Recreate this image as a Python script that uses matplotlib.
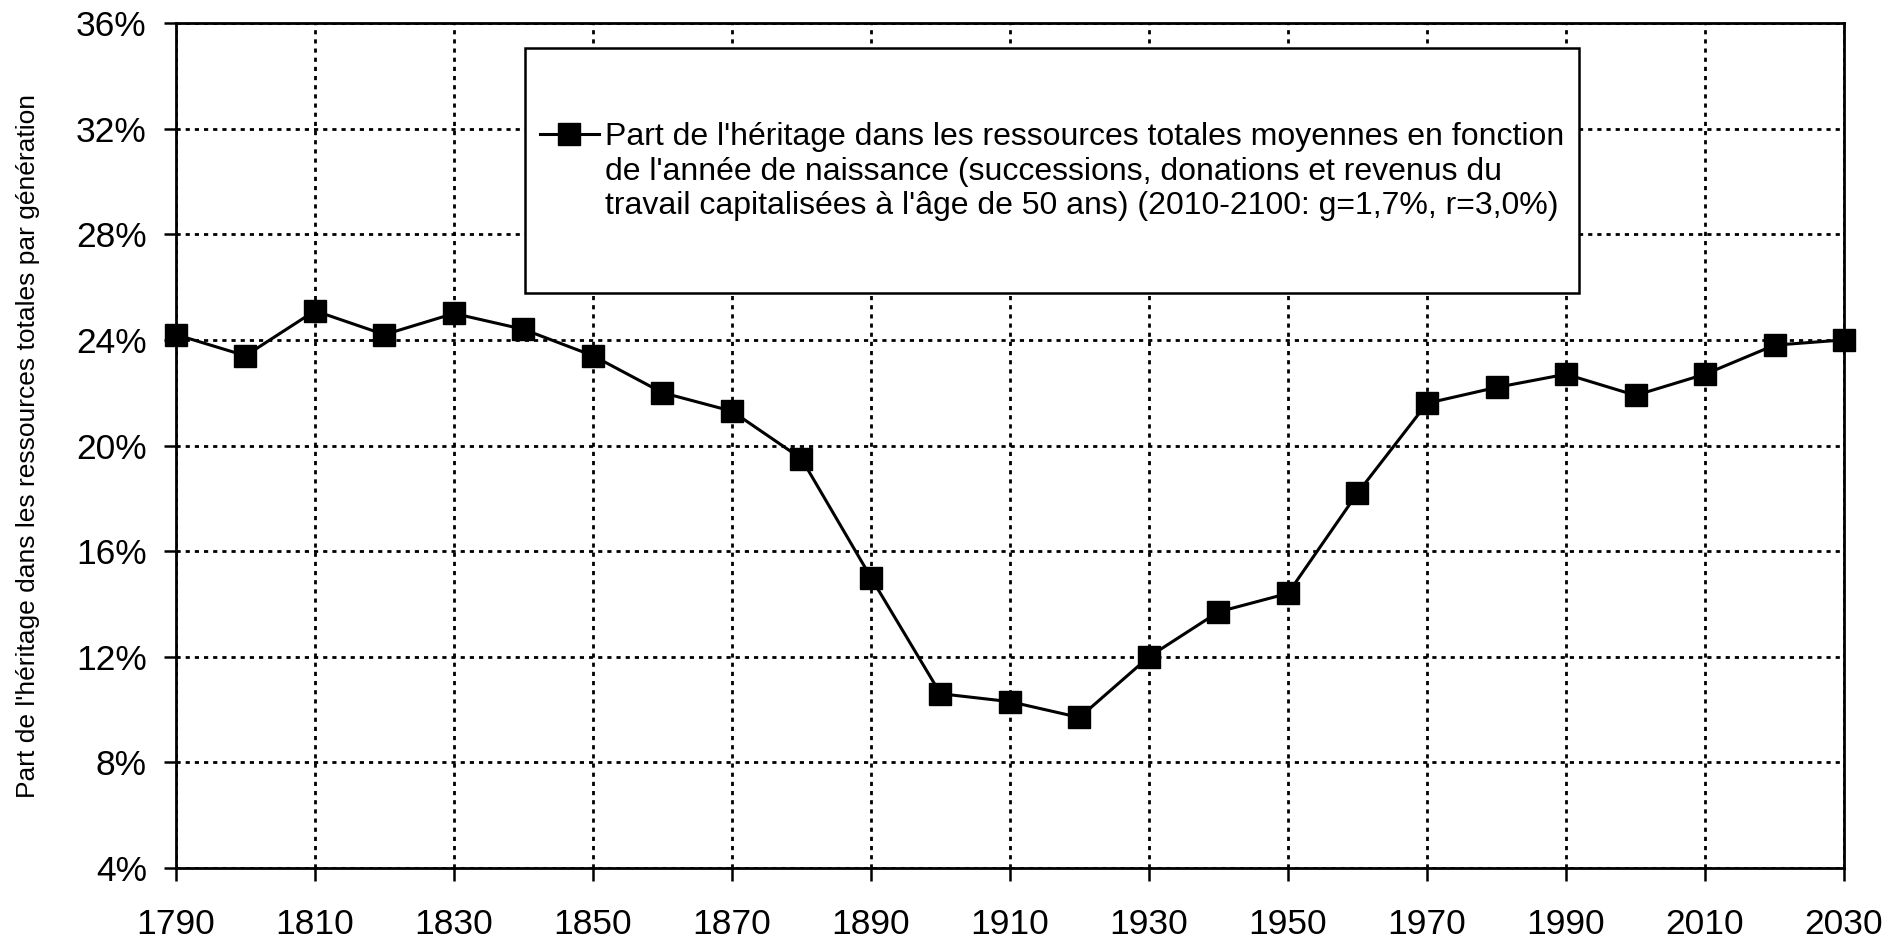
import matplotlib
matplotlib.use("Agg")
import matplotlib.pyplot as plt
from matplotlib.lines import Line2D
from matplotlib.patches import Rectangle
from matplotlib.ticker import FuncFormatter

plt.rcParams['font.family'] = ['Liberation Sans', 'DejaVu Sans']

# annee de naissance (par generation)
years = [1790, 1800, 1810, 1820, 1830, 1840, 1850, 1860, 1870, 1880,
         1890, 1900, 1910, 1920, 1930, 1940, 1950, 1960, 1970, 1980,
         1990, 2000, 2010, 2020, 2030]
# part de l'heritage dans les ressources totales
share = [0.242, 0.234, 0.251, 0.242, 0.250, 0.244, 0.234, 0.220, 0.213, 0.195,
         0.150, 0.106, 0.103, 0.097, 0.120, 0.137, 0.144, 0.182, 0.216, 0.222,
         0.227, 0.219, 0.227, 0.238, 0.240]

xticks = list(range(1790, 2031, 20))
yticks = [0.04, 0.08, 0.12, 0.16, 0.20, 0.24, 0.28, 0.32, 0.36]

label1 = "Part de l'héritage dans les ressources totales moyennes en fonction"
label2 = ("de l'année de naissance (successions, donations et revenus du\n"
          "travail capitalisées à l'âge de 50 ans) (2010-2100: g=1,7%, r=3,0%)")
ylabel = "Part de l'héritage dans les ressources totales par génération"

fig = plt.figure(figsize=(19.04, 9.39), dpi=100)
ax = fig.add_axes([0.0924, 0.0756, 0.8761, 0.8999])

line, = ax.plot(years, share, color='black', lw=2.2, marker='s',
                markersize=16.5, clip_on=False, zorder=5)

ax.set_xlim(1790, 2030)
ax.set_ylim(0.04, 0.36)
ax.set_xticks(xticks)
ax.set_yticks(yticks)
ax.yaxis.set_major_formatter(FuncFormatter(lambda v, p: f"{round(v * 100)}%"))

ax.grid(True, color='black', lw=2.0, linestyle=(0, (1.5, 1.8)))
ax.set_axisbelow(True)
for s in ax.spines.values():
    s.set_linewidth(2.0)
ax.tick_params(axis='both', direction='out', length=9, width=1.8,
               labelsize=25.5, colors='black')
ax.tick_params(axis='y', pad=12)
ax.tick_params(axis='x', pad=20)

ax.set_ylabel(ylabel, fontsize=19, labelpad=26)

# legend box
ax.add_patch(Rectangle((0.2092, 0.6805), 0.6319, 0.2899, transform=ax.transAxes,
                       facecolor='white', edgecolor='black', lw=1.8, zorder=6))
blank = Line2D([], [], color='none')
ax.legend([line, blank], [label1, label2], loc='upper left',
          bbox_to_anchor=(0.2182, 0.883), frameon=False, fontsize=23,
          handlelength=1.85, handletextpad=0.2, borderpad=0, borderaxespad=0,
          labelspacing=0.15).set_zorder(7)

fig.savefig("out.png", dpi=100)
